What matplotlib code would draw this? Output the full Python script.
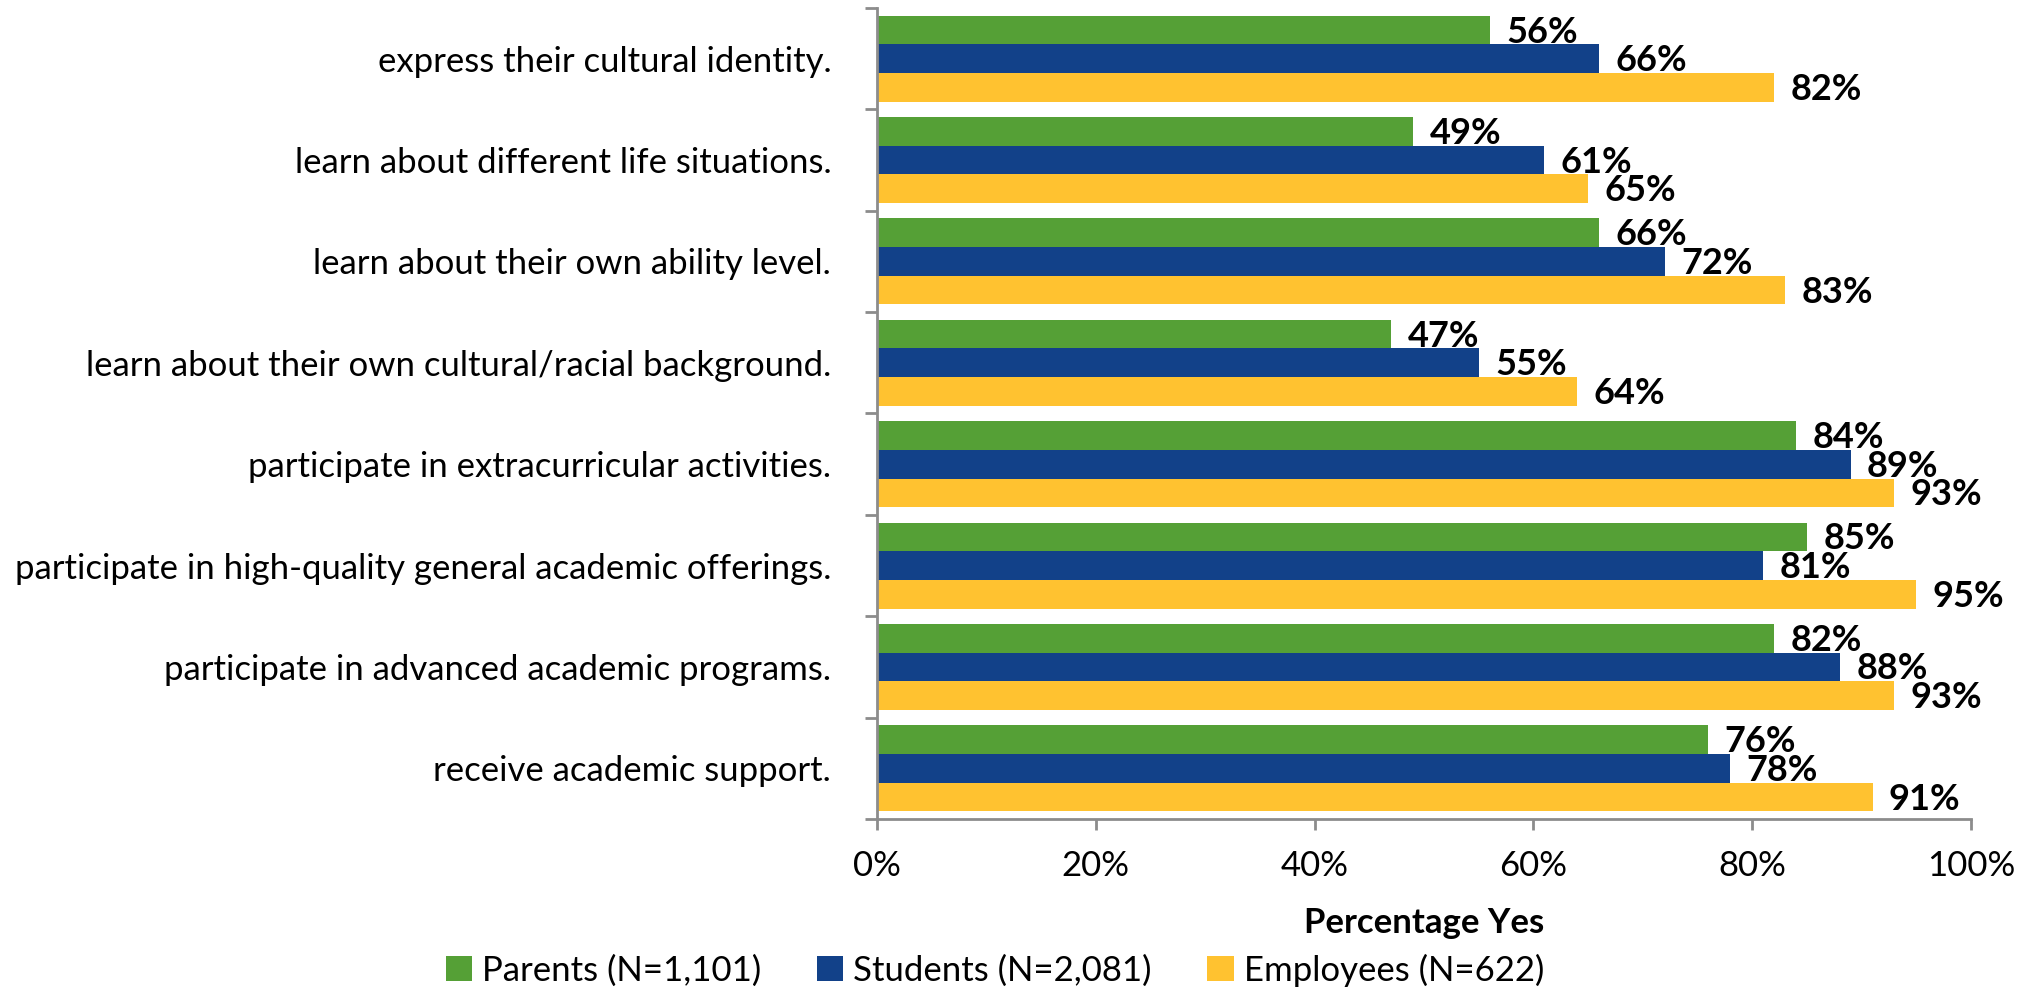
import matplotlib
matplotlib.use("Agg")
import matplotlib.pyplot as plt
from matplotlib.patches import Patch
import numpy as np

categories = [
    "express their cultural identity.",
    "learn about different life situations.",
    "learn about their own ability level.",
    "learn about their own cultural/racial background.",
    "participate in extracurricular activities.",
    "participate in high-quality general academic offerings.",
    "participate in advanced academic programs.",
    "receive academic support.",
]
parents = [56, 49, 66, 47, 84, 85, 82, 76]
students = [66, 61, 72, 55, 89, 81, 88, 78]
employees = [82, 65, 83, 64, 93, 95, 93, 91]
series_names = ["Parents (N=1,101)", "Students (N=2,081)", "Employees (N=622)"]
colors = ["#55A036", "#124189", "#FFC230"]
xticks = [0, 20, 40, 60, 80, 100]

plt.rcParams['font.family'] = ['Lato', 'DejaVu Sans']
FS = 25

W, H = 2028, 988
fig = plt.figure(figsize=(W / 100, H / 100), dpi=100)
l, r, t, b = 877 / W, 1971 / W, 1 - 8 / H, 1 - 819 / H
ax = fig.add_axes([l, b, r - l, t - b])

y = np.arange(len(categories))
h = 0.283
for k, (vals, c) in enumerate(zip([parents, students, employees], colors)):
    pos = y + (k - 1) * h
    ax.barh(pos, vals, height=h, color=c, edgecolor='none')
    for p, v in zip(pos, vals):
        ax.text(v + 1.5, p + 0.02, f"{v}%", va='center', ha='left', fontsize=26,
                fontweight='bold', color='black')

ax.set_xlim(0, 100)
ax.set_ylim(len(categories) - 0.5, -0.5)
ax.set_xticks(xticks)
ax.set_xticklabels([f"{v}%" for v in xticks], fontsize=FS)
ax.set_yticks(y)
ax.set_yticklabels(categories, fontsize=FS)
ax.set_yticks(np.arange(len(categories) + 1) - 0.5, minor=True)
ax.tick_params(axis='y', which='major', length=0, pad=33)
ax.tick_params(axis='y', which='minor', length=9, width=2, color='#8c8c8c')
ax.tick_params(axis='x', which='major', length=8, width=2, color='#8c8c8c', pad=14)

for s in ['top', 'right']:
    ax.spines[s].set_visible(False)
for s in ['left', 'bottom']:
    ax.spines[s].set_color('#8c8c8c')
    ax.spines[s].set_linewidth(2)

fig.text((l + r) / 2, 1 - 923 / H, "Percentage Yes", ha='center', va='center',
         fontsize=FS, fontweight='bold')

handles = [Patch(facecolor=c, edgecolor='none') for c in colors]
fig.legend(handles, series_names, loc='center', bbox_to_anchor=(995 / W, 1 - 970 / H),
           ncol=3, frameon=False, fontsize=FS, handlelength=0.75, handleheight=0.75,
           handletextpad=0.3, columnspacing=1.6)

fig.savefig("out.png", dpi=100)
